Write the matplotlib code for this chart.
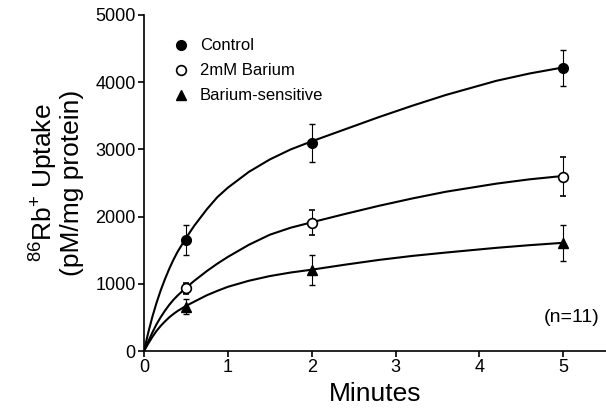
import matplotlib
matplotlib.use('Agg')
import matplotlib.pyplot as plt
from matplotlib.lines import Line2D

plt.rcParams['font.family'] = ['Liberation Sans', 'DejaVu Sans']
plt.rcParams['mathtext.default'] = 'regular'

# measured points (minutes, pM/mg protein)
minutes = [0.5, 2, 5]
control = [1650, 3095, 4210]
control_err = [220, 280, 265]
barium = [935, 1910, 2590]
barium_err = [80, 185, 290]
sensitive = [660, 1205, 1607]
sensitive_err = [110, 230, 270]

# fitted curves
t_fit = [0, 0.05, 0.1, 0.15, 0.2, 0.25, 0.3, 0.35, 0.4, 0.5, 0.6, 0.75, 0.875,
         1.0, 1.25, 1.5, 1.75, 2.0, 2.4, 2.8, 3.2, 3.6, 4.2, 4.6, 5.0]
control_fit = [0, 270, 510, 720, 905, 1070, 1220, 1355, 1475, 1680, 1865, 2110, 2290,
               2430, 2665, 2850, 3000, 3120, 3300, 3480, 3650, 3810, 4020, 4130, 4220]
barium_fit = [0, 140, 275, 400, 505, 600, 685, 760, 825, 940, 1045, 1190, 1300,
              1400, 1580, 1730, 1835, 1915, 2040, 2160, 2270, 2370, 2490, 2555, 2605]
sensitive_fit = [0, 110, 210, 300, 375, 440, 500, 550, 595, 670, 735, 830, 895,
                 955, 1045, 1115, 1168, 1210, 1285, 1355, 1415, 1465, 1535, 1575, 1610]

fig = plt.figure(figsize=(6.06, 4.13), dpi=100)
ax = fig.add_axes([144/606, 1-351/413, 462/606, 336/413])

for yfit in [control_fit, barium_fit, sensitive_fit]:
    ax.plot(t_fit, yfit, color='black', lw=1.5, zorder=2, solid_joinstyle='round')

ax.errorbar(minutes, control, yerr=control_err, fmt='o', color='black', ms=7,
            mfc='black', mec='black', ecolor='black', elinewidth=0.8, capsize=2.5, zorder=3)
ax.errorbar(minutes, barium, yerr=barium_err, fmt='o', color='black', ms=7,
            mfc='white', mec='black', mew=1.2, ecolor='black', elinewidth=0.8, capsize=2.5, zorder=3)
ax.errorbar(minutes, sensitive, yerr=sensitive_err, fmt='^', color='black', ms=7,
            mfc='black', mec='black', ecolor='black', elinewidth=0.8, capsize=2.5, zorder=3)

ax.set_xlim(0, 5.51)
ax.set_ylim(0, 5000)
ax.set_xticks([0, 1, 2, 3, 4, 5])
ax.set_yticks([0, 1000, 2000, 3000, 4000, 5000])
ax.spines['top'].set_visible(False)
ax.spines['right'].set_visible(False)
ax.spines['left'].set_linewidth(1.2)
ax.spines['bottom'].set_linewidth(1.2)
ax.tick_params(direction='out', length=4, width=1.2, labelsize=13, pad=2)

ax.set_xlabel('Minutes', fontsize=19, labelpad=4)
ax.set_ylabel('$^{86}$Rb$^{+}$ Uptake\n(pM/mg protein)', fontsize=19, labelpad=8,
              linespacing=1.0)

handles = [
    Line2D([], [], ls='none', marker='o', color='black', ms=7),
    Line2D([], [], ls='none', marker='o', mfc='white', mec='black', mew=1.2, ms=7),
    Line2D([], [], ls='none', marker='^', color='black', ms=7),
]
ax.legend(handles, ['Control', '2mM Barium', 'Barium-sensitive'], loc='upper left',
          bbox_to_anchor=(0.045, 0.955), frameon=False, fontsize=12, borderpad=0,
          handlelength=1, handletextpad=0.6, labelspacing=0.6)

ax.text(0.985, 0.1, '(n=11)', transform=ax.transAxes, ha='right', va='center', fontsize=14)

fig.savefig('out.png', dpi=100)
